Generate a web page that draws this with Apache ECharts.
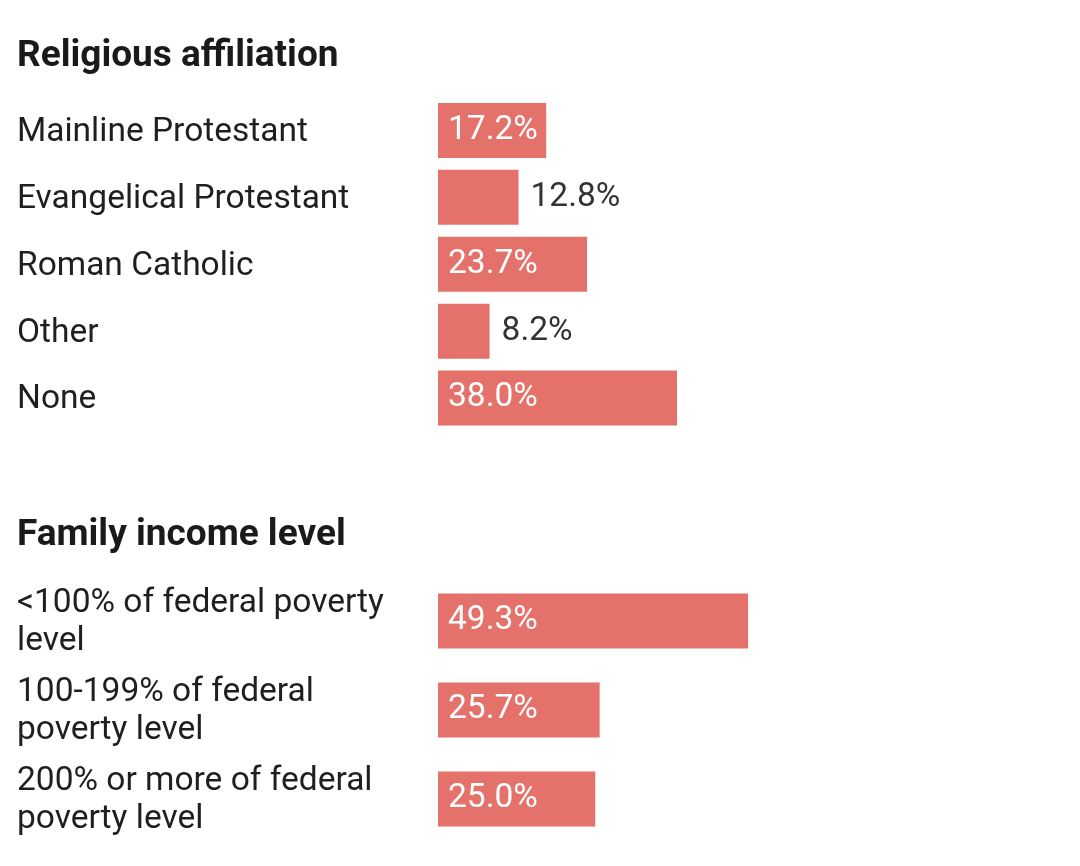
<!DOCTYPE html>
<html><head><meta charset="utf-8">
<script src="https://cdn.jsdelivr.net/npm/echarts@6/dist/echarts.min.js"></script>
<style>html,body{margin:0;padding:0;background:#fff}#c{width:1080px;height:866px}</style>
</head><body><div id="c"></div>
<script>
const religionTitle = 'Religious affiliation';
const religionCats = ['Mainline Protestant','Evangelical Protestant','Roman Catholic','Other','None'];
const religionVals = [17.2, 12.8, 23.7, 8.2, 38.0];
const incomeTitle = 'Family income level';
const incomeCats = ['<100% of federal poverty\nlevel','100-199% of federal\npoverty level','200% or more of federal\npoverty level'];
const incomeVals = [49.3, 25.7, 25.0];

const BAR = '#e5716b';
const FONT = 'Roboto';
function labelFor(v){
  const inside = v > 15;
  return {
    show: true,
    position: inside ? 'insideLeft' : 'right',
    distance: inside ? 10 : 12,
    color: inside ? '#ffffff' : '#333333',
    fontFamily: FONT, fontSize: 33.5,
    formatter: p => p.value.toFixed(1) + '%'
  };
}
function mkData(vals){ return vals.map(v => ({value: v, label: labelFor(v)})); }
function yAx(cats, gi){
  return {
    type: 'category', gridIndex: gi, data: cats, inverse: true,
    axisLine: {show: false}, axisTick: {show: false}, splitLine: {show: false},
    axisLabel: {
      align: 'left', margin: 421, color: '#1f1f1f', fontFamily: FONT, fontSize: 33.5, lineHeight: 38,
      formatter: v => v.split('\n').map(s => '{a|' + s + '}').join('\n'),
      rich: {a: {color: '#1f1f1f', fontFamily: FONT, fontSize: 33.5, lineHeight: 38, padding: [4, 0, 0, 0]}}
    }
  };
}
function xAx(gi){
  return {type: 'value', gridIndex: gi, min: 0, max: 100, show: false, splitLine: {show: false}};
}
const chart = echarts.init(document.getElementById('c'), null, {renderer: 'canvas'});
chart.setOption({
  backgroundColor: '#ffffff',
  animation: false,
  title: [
    {text: religionTitle, left: 12, top: 33, textStyle: {fontFamily: FONT, fontWeight: 'bold', fontSize: 37, color: '#1a1a1a'}},
    {text: incomeTitle, left: 12, top: 512, textStyle: {fontFamily: FONT, fontWeight: 'bold', fontSize: 37, color: '#1a1a1a'}}
  ],
  grid: [
    {left: 438, width: 629, top: 97, height: 334.5},
    {left: 438, width: 629, top: 576.5, height: 267}
  ],
  xAxis: [xAx(0), xAx(1)],
  yAxis: [yAx(religionCats, 0), yAx(incomeCats, 1)],
  series: [
    {type: 'bar', xAxisIndex: 0, yAxisIndex: 0, data: mkData(religionVals), barWidth: 55, itemStyle: {color: BAR}},
    {type: 'bar', xAxisIndex: 1, yAxisIndex: 1, data: mkData(incomeVals), barWidth: 55, itemStyle: {color: BAR}}
  ]
});
</script></body></html>
